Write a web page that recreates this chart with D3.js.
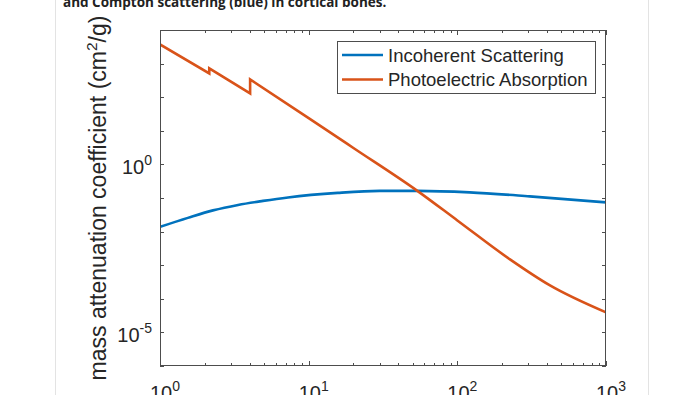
<!DOCTYPE html>
<html lang="en">
<head>
    <meta charset="UTF-8">
    <title>Mass attenuation coefficient</title>
    <style>
        html, body { margin: 0; padding: 0; background: #fff; overflow: hidden; }
        svg { display: block; }
        .tick-label, .legend text, .ylabel { font-family: "Liberation Sans", Arial, sans-serif; fill: #262626; }
        .caption { font-family: "Open Sans", "Noto Sans", sans-serif; font-weight: 700; fill: #222; }
    </style>
</head>
<body>
    <div id="chart"></div>
    <script src="https://d3js.org/d3.v7.min.js"></script>
    <script>
        // energies in keV
        const energyIncoherent = [1, 1.54, 2.27, 3.35, 4.93, 7.26, 15.7, 30.1, 54.4, 121, 307, 1000];
        const incoherent = [0.0138, 0.0256, 0.0428, 0.0623, 0.082, 0.104, 0.142, 0.163, 0.163, 0.147, 0.112, 0.074];

        const energyPhoto = [1, 2.145, 2.145, 4.038, 4.038, 10, 20, 54.4, 100, 226, 420, 1000];
        const photoelectric = [3725, 511, 720, 130, 339, 23.9, 3.08, 0.158, 0.0215, 0.00149, 0.00025, 0.0000394];

        const seriesNames = ["Incoherent Scattering", "Photoelectric Absorption"];
        const seriesColors = ["#0072BD", "#D95319"];

        const xTicks = [1, 10, 100, 1000];
        const xTickExp = ["0", "1", "2", "3"];
        const yLabelTicks = [1, 1e-5];
        const yLabelExp = ["0", "-5"];

        const width = 700, height = 395;
        const plot = {left: 160, right: 606, top: 30, bottom: 366};

        const svg = d3.select("#chart").append("svg")
            .attr("width", width)
            .attr("height", height);

        // page frame and cut-off caption
        svg.append("line").attr("x1", 55.5).attr("x2", 55.5).attr("y1", 0).attr("y2", height)
            .attr("stroke", "#e3e3e3");
        svg.append("line").attr("x1", 648.5).attr("x2", 648.5).attr("y1", 0).attr("y2", height)
            .attr("stroke", "#e3e3e3");
        svg.append("text").attr("class", "caption")
            .attr("x", 63).attr("y", 7)
            .style("font-size", "13.5px")
            .text("and Compton scattering (blue) in cortical bones.");

        const x = d3.scaleLog().domain([1, 1000]).range([plot.left, plot.right]);
        const y = d3.scaleLog().domain([1e-6, 1e4]).range([plot.bottom, plot.top]);

        const axisColor = "#4d4d4d";
        const g = svg.append("g");

        // ticks (inside, on all four sides)
        const xMinor = [];
        for (let d = 1; d < 1000; d *= 10) for (let k = 2; k <= 9; k++) xMinor.push(d * k);
        const yMajor = d3.range(-6, 5).map(p => Math.pow(10, p));

        const tickG = g.append("g").attr("stroke", axisColor).attr("stroke-width", 1);
        [plot.bottom, plot.top].forEach((yy, i) => {
            const dir = i === 0 ? -1 : 1;
            tickG.selectAll(null).data(xTicks).join("line")
                .attr("x1", d => Math.round(x(d)) + 0.5).attr("x2", d => Math.round(x(d)) + 0.5)
                .attr("y1", yy).attr("y2", yy + dir * 5);
            tickG.selectAll(null).data(xMinor).join("line")
                .attr("x1", d => Math.round(x(d)) + 0.5).attr("x2", d => Math.round(x(d)) + 0.5)
                .attr("y1", yy).attr("y2", yy + dir * 3);
        });
        [plot.left, plot.right].forEach((xx, i) => {
            const dir = i === 0 ? 1 : -1;
            tickG.selectAll(null).data(yMajor).join("line")
                .attr("y1", d => Math.round(y(d)) + 0.5).attr("y2", d => Math.round(y(d)) + 0.5)
                .attr("x1", xx).attr("x2", xx + dir * 4);
        });

        // curves: split at absorption edges (repeated energy) so each piece is smooth
        function curvePath(xs, ys) {
            const pieces = [[]];
            xs.forEach((e, i) => {
                if (i > 0 && e === xs[i - 1]) pieces.push([]);
                pieces[pieces.length - 1].push([e, ys[i]]);
            });
            const line = d3.line().x(d => x(d[0])).y(d => y(d[1])).curve(d3.curveMonotoneX);
            return pieces.map((p, i) => {
                const d = line(p);
                return i === 0 ? d : "L" + d.slice(1);
            }).join("");
        }

        const series = [
            {name: seriesNames[0], color: seriesColors[0], xs: energyIncoherent, ys: incoherent},
            {name: seriesNames[1], color: seriesColors[1], xs: energyPhoto, ys: photoelectric}
        ];
        svg.append("defs").append("clipPath").attr("id", "clip")
            .append("rect").attr("x", plot.left).attr("y", plot.top)
            .attr("width", plot.right - plot.left).attr("height", plot.bottom - plot.top);

        series.forEach(s => {
            g.append("path")
                .attr("clip-path", "url(#clip)")
                .attr("fill", "none")
                .attr("stroke", s.color)
                .attr("stroke-width", 2.6)
                .attr("stroke-linejoin", "miter")
                .attr("d", curvePath(s.xs, s.ys));
        });

        // box
        g.append("rect")
            .attr("x", plot.left + 0.5).attr("y", plot.top + 0.5)
            .attr("width", plot.right - plot.left - 1).attr("height", plot.bottom - plot.top - 1)
            .attr("fill", "none").attr("stroke", axisColor).attr("stroke-width", 1);

        // tick labels
        const xl = g.append("g").attr("class", "tick-label").style("font-size", "20px");
        xTicks.forEach((t, i) => {
            const txt = xl.append("text")
                .attr("x", x(t) + 5).attr("y", 400)
                .attr("text-anchor", "middle");
            txt.append("tspan").text("10");
            txt.append("tspan").attr("dy", -9).style("font-size", "14px").text(xTickExp[i]);
        });
        const yl = g.append("g").attr("class", "tick-label").style("font-size", "20px");
        yLabelTicks.forEach((t, i) => {
            const txt = yl.append("text")
                .attr("x", plot.left - 8).attr("y", y(t) + 10)
                .attr("text-anchor", "end");
            txt.append("tspan").text("10");
            txt.append("tspan").attr("dy", -9).style("font-size", "14px").text(yLabelExp[i]);
        });

        // y label
        const ylab = svg.append("text").attr("class", "ylabel")
            .attr("transform", `translate(106,${(plot.top + plot.bottom) / 2}) rotate(-90)`)
            .attr("text-anchor", "middle")
            .style("font-size", "23px");
        ylab.append("tspan").text("mass attenuation coefficient (cm");
        ylab.append("tspan").attr("dy", -9).style("font-size", "15.5px").text("2");
        ylab.append("tspan").attr("dy", 9).text("/g)");

        // legend
        const leg = svg.append("g").attr("class", "legend");
        leg.append("rect")
            .attr("x", 337.5).attr("y", 41.5).attr("width", 258).attr("height", 52)
            .attr("fill", "#fff").attr("stroke", axisColor).attr("stroke-width", 1);
        series.forEach((s, i) => {
            const yy = 55 + i * 24.5;
            leg.append("line").attr("x1", 342).attr("x2", 383).attr("y1", yy).attr("y2", yy)
                .attr("stroke", s.color).attr("stroke-width", 2.6);
            leg.append("text").attr("x", 388).attr("y", yy + 6.5)
                .style("font-size", "18.5px").text(s.name);
        });
    </script>
</body>
</html>
